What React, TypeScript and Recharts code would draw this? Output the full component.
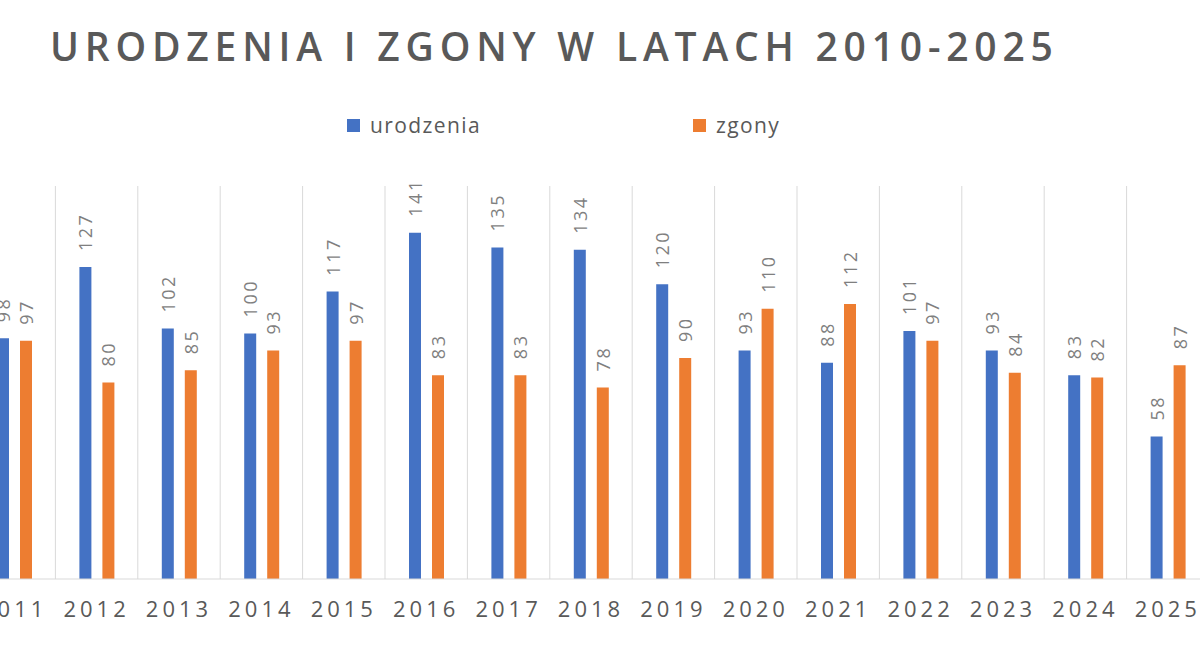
import { BarChart, Bar, XAxis, YAxis, CartesianGrid, LabelList } from 'recharts';

const years = ['2011', '2012', '2013', '2014', '2015', '2016', '2017', '2018', '2019', '2020', '2021', '2022', '2023', '2024', '2025'];
const urodzenia = [98, 127, 102, 100, 117, 141, 135, 134, 120, 93, 88, 101, 93, 83, 58];
const zgony = [97, 80, 85, 93, 97, 83, 83, 78, 90, 110, 112, 97, 84, 82, 87];

const BLUE = '#4472C4';
const ORANGE = '#ED7D31';
const TEXT = '#595959';
const GRID = '#d9d9d9';
const FONT = '"Open Sans", "DejaVu Sans", sans-serif';

const data = years.map((year, i) => ({ year, urodzenia: urodzenia[i], zgony: zgony[i] }));

// rotated value label sitting above the bar
function ValueLabel(props: any) {
  const { x, y, width, value } = props;
  const cx = x + width / 2;
  const ty = y - 16;
  return (
    <text
      x={cx}
      y={ty}
      transform={`rotate(-90 ${cx} ${ty})`}
      textAnchor="start"
      dominantBaseline="central"
      fill="#7f7f7f"
      fontSize={18}
      letterSpacing={2.5}
      fontFamily={FONT}
    >
      {value}
    </text>
  );
}

function YearTick(props: any) {
  const { x, y, payload } = props;
  return (
    <text x={x} y={y + 32} textAnchor="middle" fill={TEXT} fontSize={22} letterSpacing={4} fontFamily={FONT}>
      {payload.value}
    </text>
  );
}

// category separators instead of lines through the band centres
function bandEdges({ offset }: any) {
  const step = offset.width / years.length;
  return years.slice(1).map((_, i) => offset.left + step * (i + 1));
}

function LegendItem({ color, label, left }: { color: string; label: string; left: number }) {
  return (
    <div style={{ position: 'absolute', left, top: 111, display: 'flex', alignItems: 'center', gap: 10 }}>
      <span style={{ width: 13, height: 13, background: color, display: 'inline-block' }} />
      <span style={{ fontSize: 21, letterSpacing: 1.4, color: TEXT, fontFamily: FONT }}>{label}</span>
    </div>
  );
}

export default function App() {
  return (
    <div style={{ position: 'absolute', left: 0, top: 0, width: 1200, height: 646, overflow: 'hidden', background: '#fff' }}>
      <div
        style={{
          position: 'absolute',
          left: 50,
          top: 26,
          fontFamily: FONT,
          fontWeight: 600,
          fontSize: 39,
          lineHeight: 1,
          letterSpacing: 5.8,
          color: TEXT,
          whiteSpace: 'nowrap',
        }}
      >
        URODZENIA I ZGONY W LATACH 2010-2025
      </div>
      <LegendItem color={BLUE} label="urodzenia" left={347} />
      <LegendItem color={ORANGE} label="zgony" left={693} />
      <div style={{ position: 'absolute', left: -27, top: 0 }}>
        <BarChart
          width={1236}
          height={646}
          data={data}
          margin={{ top: 186, right: 0, left: 0, bottom: 27 }}
          barSize={12}
          barGap={11}
        >
          <CartesianGrid horizontal={false} stroke={GRID} verticalCoordinatesGenerator={bandEdges} />
          <XAxis
            dataKey="year"
            height={40}
            axisLine={{ stroke: GRID }}
            tickLine={false}
            tickMargin={0}
            interval={0}
            tick={<YearTick />}
          />
          <YAxis hide domain={[0, 160]} />
          <Bar dataKey="urodzenia" fill={BLUE} isAnimationActive={false}>
            <LabelList dataKey="urodzenia" content={<ValueLabel />} />
          </Bar>
          <Bar dataKey="zgony" fill={ORANGE} isAnimationActive={false}>
            <LabelList dataKey="zgony" content={<ValueLabel />} />
          </Bar>
        </BarChart>
      </div>
    </div>
  );
}
